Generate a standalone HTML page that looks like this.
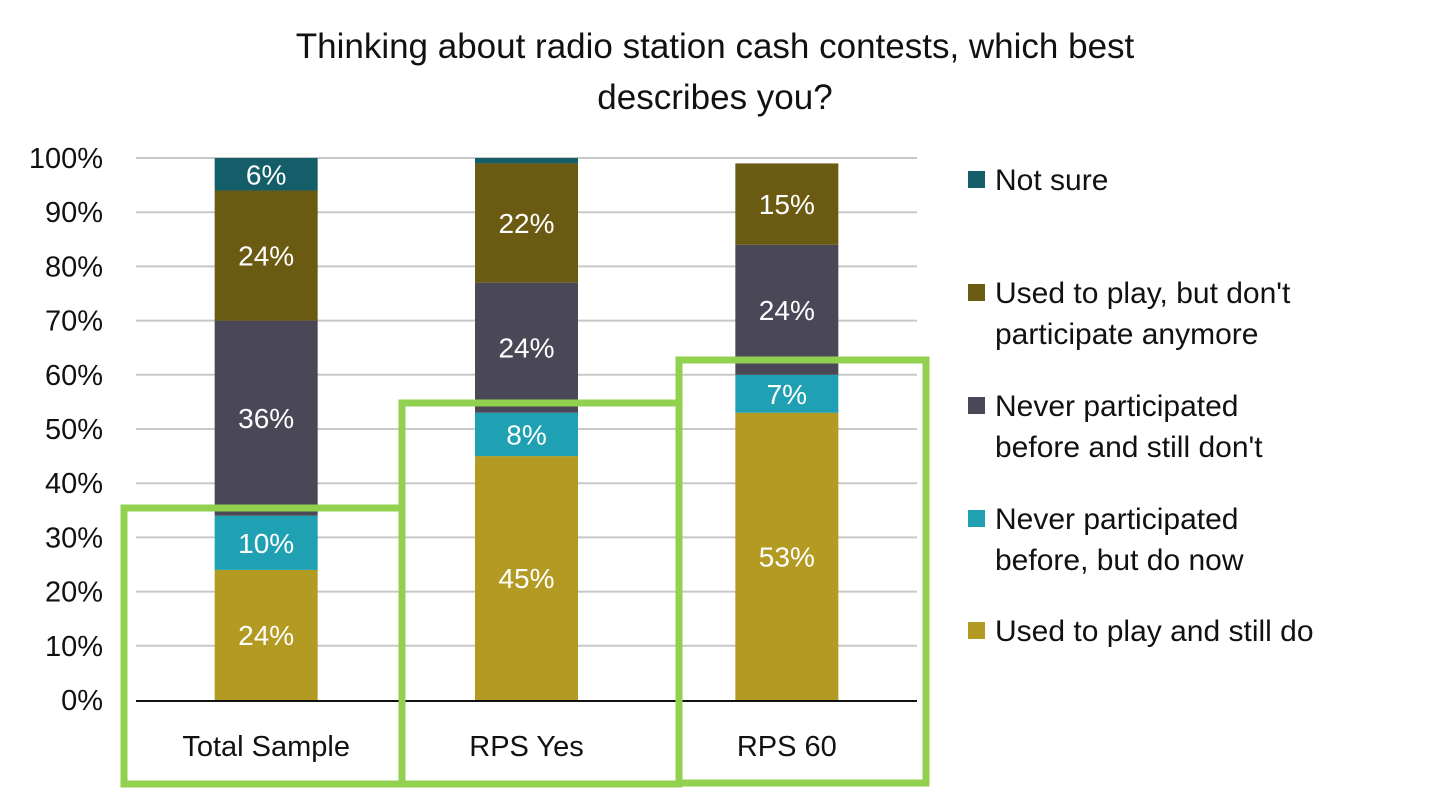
<!DOCTYPE html>
<html><head><meta charset="utf-8"><style>
body{margin:0;background:#fff;}
svg text{font-family:"Liberation Sans",sans-serif;}
</style></head><body>
<svg id="chart" width="1430" height="788" viewBox="0 0 1430 788" xmlns="http://www.w3.org/2000/svg">
<text x="715" y="58" text-anchor="middle" font-size="35" fill="#111">Thinking about radio station cash contests, which best</text>
<text x="715" y="109" text-anchor="middle" font-size="35" fill="#111">describes you?</text>
<g id="grid"></g><g id="bars"></g><g id="labels"></g>
<g id="legend"></g>
<g id="boxes" fill="none" stroke="#92d050" stroke-width="7">
<rect x="124" y="508" width="278" height="276"/>
<rect x="402" y="403" width="277" height="381"/>
<rect x="679" y="360" width="247" height="423"/>
</g>
</svg>
<script>
const categories=["Total Sample","RPS Yes","RPS 60"];
const seriesNames=["Used to play and still do","Never participated before, but do now","Never participated before and still don't","Used to play, but don't participate anymore","Not sure"];
const usedStill=[24,45,53];
const neverNow=[10,8,7];
const neverStill=[36,24,24];
const usedNot=[24,22,15];
const notSure=[6,1,0];
const labelUsedStill=["24%","45%","53%"];
const labelNeverNow=["10%","8%","7%"];
const labelNeverStill=["36%","24%","24%"];
const labelUsedNot=["24%","22%","15%"];
const labelNotSure=["6%","",""];
const ticks=[0,10,20,30,40,50,60,70,80,90,100];

const colors=["#b39a22","#1fa0b3","#4a4857","#6b5a12","#135e68"];
const series=[usedStill,neverNow,neverStill,usedNot,notSure];
const labels=[labelUsedStill,labelNeverNow,labelNeverStill,labelUsedNot,labelNotSure];
const NS="http://www.w3.org/2000/svg";
const y0=700,y100=158,xL=136,xR=917;
const y=v=>y0-(y0-y100)*v/100;
const band=(xR-xL)/categories.length;
const cx=i=>xL+band*(i+0.5);
const bw=103;
function mk(t,a,p){const e=document.createElementNS(NS,t);for(const k in a)e.setAttribute(k,a[k]);p.appendChild(e);return e;}
const grid=document.getElementById('grid'),bars=document.getElementById('bars'),lab=document.getElementById('labels'),leg=document.getElementById('legend');
ticks.forEach(t=>{
  if(t>0){const l=mk('line',{x1:xL,x2:xR,y1:y(t),y2:y(t),stroke:'#c8c8c8','stroke-width':2},grid);
  
  }
  const tx=mk('text',{x:103,y:y(t)+10,'text-anchor':'end','font-size':29,fill:'#111'},grid);
  tx.textContent=t+'%';
  
  
});
const ax=mk('line',{x1:xL,x2:xR,y1:y0+1,y2:y0+1,stroke:'#111','stroke-width':2},grid);


categories.forEach((c,i)=>{
  let acc=0;
  series.forEach((s,k)=>{
    const v=s[i];if(v<=0)return;
    const r=mk('rect',{x:cx(i)-bw/2,y:y(acc+v),width:bw,height:y(acc)-y(acc+v),fill:colors[k]},bars);
    
    
    if(labels[k][i]){const t=mk('text',{x:cx(i),y:(y(acc)+y(acc+v))/2+10,'text-anchor':'middle','font-size':28,fill:'#fff'},lab);
      t.textContent=labels[k][i];
      
      }
    acc+=v;
  });
  const t=mk('text',{x:cx(i),y:756,'text-anchor':'middle','font-size':29,fill:'#111'},lab);
  t.textContent=c;
  
  
});
const legendItems=[[4,["Not sure"],180],[3,["Used to play, but don't","participate anymore"],293],[2,["Never participated","before and still don't"],406],[1,["Never participated","before, but do now"],519],[0,["Used to play and still do"],631]];
legendItems.forEach(([k,lines,yy])=>{
  const r=mk('rect',{x:968,y:yy-9,width:17,height:17,fill:colors[k]},leg);
  
  
  lines.forEach((ln,j)=>{const t=mk('text',{x:995,y:yy+10+j*41,'font-size':30,fill:'#111'},leg);
    t.textContent=ln;
    
    });
});
</script>
</body></html>
